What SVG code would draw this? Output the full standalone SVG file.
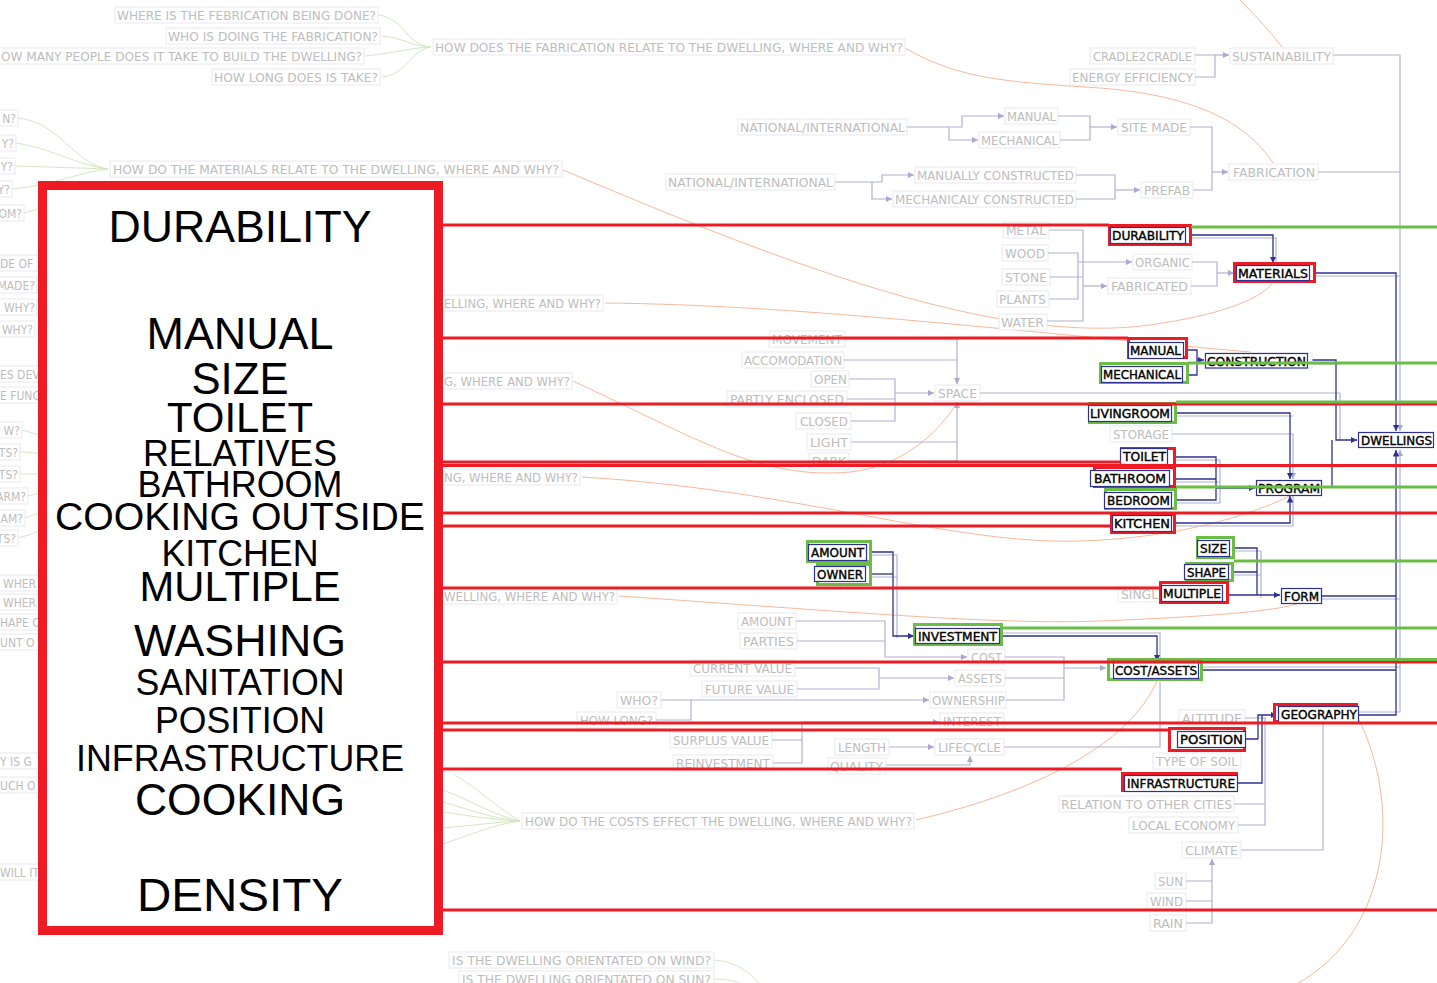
<svg xmlns="http://www.w3.org/2000/svg" width="1437" height="983" viewBox="0 0 1437 983">
<style>
.g{font-family:"DejaVu Sans Condensed","DejaVu Sans",sans-serif;font-size:12px;fill:#bdbdbd}
.ge{font-family:"DejaVu Sans Condensed","DejaVu Sans",sans-serif;font-size:12px;fill:#bdbdbd;text-anchor:end}
.gb{fill:#fff;stroke:#e9e9f0;stroke-width:1}
.k{font-family:"DejaVu Sans Condensed","DejaVu Sans",sans-serif;font-size:12px;fill:#000;stroke:#000;stroke-width:0.35}
.nb{fill:#fff;stroke:#2e3192;stroke-width:1.2}
.ro{fill:#fff;stroke:#ed1c24;stroke-width:3}
.go{fill:#fff;stroke:#6cbd45;stroke-width:3}
.lc{fill:none;stroke:#b0b0d6;stroke-width:1.2}
.dc{fill:none;stroke:#2e3192;stroke-width:1.3}
.oc{fill:none;stroke:#f8b89a;stroke-width:1}
.gc{fill:none;stroke:#d3e8c3;stroke-width:1}
.rl{stroke:#ed1c24;stroke-width:3}
.gl{stroke:#6cbd45;stroke-width:3}
.big{font-family:"Liberation Sans",Arial,sans-serif;fill:#000;text-anchor:middle}
</style>
<defs>
<marker id="al" viewBox="0 0 6 6" refX="6" refY="3" markerWidth="5" markerHeight="5" orient="auto"><path d="M0,0L6,3L0,6z" fill="#a8a8d0"/></marker>
<marker id="ad" viewBox="0 0 6 6" refX="6" refY="3" markerWidth="5" markerHeight="5" orient="auto"><path d="M0,0L6,3L0,6z" fill="#2e3192"/></marker>
</defs>
<rect width="1437" height="983" fill="#fff"/>

<g id="curves">
<path class="gc" d="M378,15 C405,18 405,45 431,47 M381,36 C405,38 410,46 431,47 M365,56 C395,53 410,48 431,47 M381,77 C408,75 410,50 431,47"/>
<path class="gc" d="M18,118 C60,122 75,165 108,169 M16,143 C50,148 80,166 108,169 M15,166 C50,167 80,168 108,169 M12,189 C50,186 80,172 108,169 M24,213 C30,211 38,210 45,205"/>
<path class="gc" d="M22,430 C30,432 36,434 42,436 M20,452 C28,452 34,453 42,454 M20,474 C28,474 34,474 42,474 M28,496 C33,495 37,494 42,492 M25,518 C31,516 36,514 42,512 M18,538 C26,536 34,533 42,530"/>
<path class="gc" d="M455,775 C480,790 500,810 520,821 M443,790 C470,800 495,816 520,821 M443,802 C470,810 495,819 520,821 M443,812 C470,816 495,820 520,821 M443,828 C470,826 495,822 520,821 M443,844 C470,835 495,824 520,821"/>
<path class="gc" d="M714,960 C740,962 752,975 766,990 M714,979 C735,979 745,985 752,990"/>
<path class="oc" d="M905,48 C960,80 1010,82 1100,88 C1190,95 1245,120 1273,163"/>
<path class="oc" d="M1240,0 Q1265,25 1282,47"/>
<path class="oc" d="M563,170 C800,270 1000,345 1150,325 C1220,315 1258,300 1272,284"/>
<path class="oc" d="M605,303 C800,305 1000,330 1250,352"/>
<path class="oc" d="M573,381 C700,440 760,480 850,472 C905,466 940,430 957,403"/>
<path class="oc" d="M582,477 C800,490 950,545 1080,541 C1180,538 1250,515 1290,496"/>
<path class="oc" d="M619,596 C850,612 1000,625 1100,621 C1200,617 1270,612 1297,604"/>
<path class="oc" d="M916,820 C980,805 1120,765 1157,681"/>
<path class="oc" d="M1358,718 C1400,800 1395,930 1295,985"/>
</g>

<g id="labels">
<g id="q1"><rect class="gb" x="115" y="7" width="263" height="16"/><text class="g" x="117" y="20" textLength="259" lengthAdjust="spacingAndGlyphs">WHERE IS THE FEBRICATION BEING DONE?</text></g>
<g id="q2"><rect class="gb" x="166" y="28" width="214" height="16"/><text class="g" x="168" y="41" textLength="210" lengthAdjust="spacingAndGlyphs">WHO IS DOING THE FABRICATION?</text></g>
<g id="q3"><rect class="gb" x="-2" y="48" width="366" height="16"/><text class="g" x="1" y="61" textLength="361" lengthAdjust="spacingAndGlyphs">OW MANY PEOPLE DOES IT TAKE TO BUILD THE DWELLING?</text></g>
<g id="q4"><rect class="gb" x="212" y="69" width="168" height="16"/><text class="g" x="214" y="82" textLength="164" lengthAdjust="spacingAndGlyphs">HOW LONG DOES IS TAKE?</text></g>
<g id="q5"><rect class="gb" x="433" y="39" width="472" height="16"/><text class="g" x="435" y="52" textLength="468" lengthAdjust="spacingAndGlyphs">HOW DOES THE FABRICATION RELATE TO THE DWELLING, WHERE AND WHY?</text></g>
<g id="m0"><rect class="gb" x="110" y="161" width="452" height="16"/><text class="g" x="113" y="174" textLength="446" lengthAdjust="spacingAndGlyphs">HOW DO THE MATERIALS RELATE TO THE DWELLING, WHERE AND WHY?</text></g>
<g id="l1"><rect class="gb" x="-2" y="110" width="20" height="16"/><text class="ge" x="16" y="123">N?</text></g>
<g id="l2"><rect class="gb" x="-2" y="135" width="18" height="16"/><text class="ge" x="14" y="148">Y?</text></g>
<g id="l3"><rect class="gb" x="-2" y="158" width="17" height="16"/><text class="ge" x="13" y="171">Y?</text></g>
<g id="l4"><rect class="gb" x="-2" y="181" width="14" height="16"/><text class="ge" x="10" y="194">Y?</text></g>
<g id="l5"><rect class="gb" x="-2" y="205" width="26" height="16"/><text class="ge" x="22" y="218">OM?</text></g>
<g id="l6"><rect class="gb" x="-2" y="255" width="45" height="16"/><text class="g" x="0" y="268">DE OF</text></g>
<g id="l7"><rect class="gb" x="-2" y="277" width="39" height="16"/><text class="ge" x="35" y="290">MADE?</text></g>
<g id="l8"><rect class="gb" x="-2" y="299" width="39" height="16"/><text class="ge" x="35" y="312">WHY?</text></g>
<g id="l9"><rect class="gb" x="-2" y="321" width="37" height="16"/><text class="ge" x="33" y="334">WHY?</text></g>
<g id="l10"><rect class="gb" x="-2" y="366" width="45" height="16"/><text class="g" x="0" y="379">ES DEV</text></g>
<g id="l11"><rect class="gb" x="-2" y="387" width="45" height="16"/><text class="g" x="0" y="400">E FUNC</text></g>
<g id="l12"><rect class="gb" x="-2" y="422" width="24" height="16"/><text class="ge" x="20" y="435">W?</text></g>
<g id="l13"><rect class="gb" x="-2" y="444" width="22" height="16"/><text class="ge" x="18" y="457">TS?</text></g>
<g id="l14"><rect class="gb" x="-2" y="466" width="22" height="16"/><text class="ge" x="18" y="479">TS?</text></g>
<g id="l15"><rect class="gb" x="-2" y="488" width="30" height="16"/><text class="ge" x="26" y="501">ARM?</text></g>
<g id="l16"><rect class="gb" x="-2" y="510" width="27" height="16"/><text class="ge" x="23" y="523">AM?</text></g>
<g id="l17"><rect class="gb" x="-2" y="530" width="20" height="16"/><text class="ge" x="16" y="543">TS?</text></g>
<g id="l18"><rect class="gb" x="-2" y="575" width="45" height="16"/><text class="g" x="3" y="588">WHER</text></g>
<g id="l19"><rect class="gb" x="-2" y="594" width="45" height="16"/><text class="g" x="3" y="607">WHER</text></g>
<g id="l20"><rect class="gb" x="-2" y="614" width="45" height="16"/><text class="g" x="0" y="627">HAPE O</text></g>
<g id="l21"><rect class="gb" x="-2" y="634" width="45" height="16"/><text class="g" x="0" y="647">UNT O</text></g>
<g id="l22"><rect class="gb" x="-2" y="753" width="45" height="16"/><text class="g" x="0" y="766">Y IS G</text></g>
<g id="l23"><rect class="gb" x="-2" y="777" width="45" height="16"/><text class="g" x="0" y="790">UCH O</text></g>
<g id="l24"><rect class="gb" x="-2" y="864" width="45" height="16"/><text class="g" x="0" y="877">WILL IT</text></g>
<g id="r1"><rect class="gb" x="440" y="295" width="163" height="16"/><text class="g" x="444" y="308" textLength="157" lengthAdjust="spacingAndGlyphs">ELLING, WHERE AND WHY?</text></g>
<g id="r2"><rect class="gb" x="440" y="373" width="132" height="16"/><text class="g" x="444" y="386" textLength="126" lengthAdjust="spacingAndGlyphs">G, WHERE AND WHY?</text></g>
<g id="r3"><rect class="gb" x="440" y="469" width="140" height="16"/><text class="g" x="444" y="482" textLength="134" lengthAdjust="spacingAndGlyphs">NG, WHERE AND WHY?</text></g>
<g id="r4"><rect class="gb" x="440" y="588" width="177" height="16"/><text class="g" x="444" y="601" textLength="171" lengthAdjust="spacingAndGlyphs">WELLING, WHERE AND WHY?</text></g>
<g id="c0"><rect class="gb" x="522" y="813" width="392" height="16"/><text class="g" x="525" y="826" textLength="387" lengthAdjust="spacingAndGlyphs">HOW DO THE COSTS EFFECT THE DWELLING, WHERE AND WHY?</text></g>
<g id="o1"><rect class="gb" x="449" y="952" width="265" height="16"/><text class="g" x="452" y="965" textLength="259" lengthAdjust="spacingAndGlyphs">IS THE DWELLING ORIENTATED ON WIND?</text></g>
<g id="o2"><rect class="gb" x="459" y="971" width="255" height="16"/><text class="g" x="462" y="984" textLength="249" lengthAdjust="spacingAndGlyphs">IS THE DWELLING ORIENTATED ON SUN?</text></g>
<g id="cradle"><rect class="gb" x="1090" y="48" width="105" height="16"/><text class="g" x="1093" y="61" textLength="99" lengthAdjust="spacingAndGlyphs">CRADLE2CRADLE</text></g>
<g id="energy"><rect class="gb" x="1070" y="69" width="125" height="16"/><text class="g" x="1072" y="82" textLength="121" lengthAdjust="spacingAndGlyphs">ENERGY EFFICIENCY</text></g>
<g id="sustain"><rect class="gb" x="1230" y="48" width="103" height="16"/><text class="g" x="1232" y="61" textLength="99" lengthAdjust="spacingAndGlyphs">SUSTAINABILITY</text></g>
<g id="nat1"><rect class="gb" x="738" y="119" width="169" height="16"/><text class="g" x="740" y="132" textLength="165" lengthAdjust="spacingAndGlyphs">NATIONAL/INTERNATIONAL</text></g>
<g id="manual-g"><rect class="gb" x="1005" y="108" width="53" height="16"/><text class="g" x="1007" y="121" textLength="49" lengthAdjust="spacingAndGlyphs">MANUAL</text></g>
<g id="mech-g"><rect class="gb" x="979" y="132" width="81" height="16"/><text class="g" x="981" y="145" textLength="77" lengthAdjust="spacingAndGlyphs">MECHANICAL</text></g>
<g id="sitemade"><rect class="gb" x="1118" y="119" width="72" height="16"/><text class="g" x="1121" y="132" textLength="66" lengthAdjust="spacingAndGlyphs">SITE MADE</text></g>
<g id="nat2"><rect class="gb" x="666" y="174" width="169" height="16"/><text class="g" x="668" y="187" textLength="165" lengthAdjust="spacingAndGlyphs">NATIONAL/INTERNATIONAL</text></g>
<g id="manc"><rect class="gb" x="915" y="167" width="161" height="16"/><text class="g" x="917" y="180" textLength="157" lengthAdjust="spacingAndGlyphs">MANUALLY CONSTRUCTED</text></g>
<g id="mechc"><rect class="gb" x="893" y="191" width="183" height="16"/><text class="g" x="895" y="204" textLength="179" lengthAdjust="spacingAndGlyphs">MECHANICALY CONSTRUCTED</text></g>
<g id="prefab"><rect class="gb" x="1141" y="182" width="52" height="16"/><text class="g" x="1144" y="195" textLength="46" lengthAdjust="spacingAndGlyphs">PREFAB</text></g>
<g id="fabrication"><rect class="gb" x="1229" y="164" width="89" height="16"/><text class="g" x="1233" y="177" textLength="82" lengthAdjust="spacingAndGlyphs">FABRICATION</text></g>
<g id="metal"><rect class="gb" x="1003" y="222" width="46" height="16"/><text class="g" x="1006" y="235" textLength="40" lengthAdjust="spacingAndGlyphs">METAL</text></g>
<g id="wood"><rect class="gb" x="1002" y="245" width="46" height="16"/><text class="g" x="1005" y="258" textLength="40" lengthAdjust="spacingAndGlyphs">WOOD</text></g>
<g id="stone"><rect class="gb" x="1002" y="269" width="48" height="16"/><text class="g" x="1005" y="282" textLength="42" lengthAdjust="spacingAndGlyphs">STONE</text></g>
<g id="plants"><rect class="gb" x="997" y="291" width="52" height="16"/><text class="g" x="999" y="304" textLength="47" lengthAdjust="spacingAndGlyphs">PLANTS</text></g>
<g id="water"><rect class="gb" x="999" y="314" width="48" height="16"/><text class="g" x="1001" y="327" textLength="43" lengthAdjust="spacingAndGlyphs">WATER</text></g>
<g id="organic"><rect class="gb" x="1133" y="254" width="59" height="16"/><text class="g" x="1135" y="267" textLength="55" lengthAdjust="spacingAndGlyphs">ORGANIC</text></g>
<g id="fabricated"><rect class="gb" x="1108" y="278" width="83" height="16"/><text class="g" x="1111" y="291" textLength="77" lengthAdjust="spacingAndGlyphs">FABRICATED</text></g>
<g id="movement"><rect class="gb" x="769" y="331" width="76" height="16"/><text class="g" x="772" y="344" textLength="70" lengthAdjust="spacingAndGlyphs">MOVEMENT</text></g>
<g id="accom"><rect class="gb" x="742" y="352" width="102" height="16"/><text class="g" x="744" y="365" textLength="98" lengthAdjust="spacingAndGlyphs">ACCOMODATION</text></g>
<g id="open"><rect class="gb" x="811" y="371" width="38" height="16"/><text class="g" x="814" y="384" textLength="33" lengthAdjust="spacingAndGlyphs">OPEN</text></g>
<g id="partly"><rect class="gb" x="727" y="391" width="120" height="16"/><text class="g" x="730" y="404" textLength="114" lengthAdjust="spacingAndGlyphs">PARTLY ENCLOSED</text></g>
<g id="closed"><rect class="gb" x="796" y="413" width="55" height="16"/><text class="g" x="800" y="426" textLength="48" lengthAdjust="spacingAndGlyphs">CLOSED</text></g>
<g id="light"><rect class="gb" x="807" y="434" width="44" height="16"/><text class="g" x="810" y="447" textLength="38" lengthAdjust="spacingAndGlyphs">LIGHT</text></g>
<g id="dark"><rect class="gb" x="809" y="453" width="40" height="16"/><text class="g" x="812" y="466" textLength="34" lengthAdjust="spacingAndGlyphs">DARK</text></g>
<g id="space"><rect class="gb" x="935" y="385" width="45" height="16"/><text class="g" x="938" y="398" textLength="39" lengthAdjust="spacingAndGlyphs">SPACE</text></g>
<g id="storage"><rect class="gb" x="1110" y="426" width="62" height="16"/><text class="g" x="1113" y="439" textLength="56" lengthAdjust="spacingAndGlyphs">STORAGE</text></g>
<g id="singlemult"><rect class="gb" x="1118" y="586" width="110" height="16"/><text class="g" x="1121" y="599" textLength="37" lengthAdjust="spacingAndGlyphs">SINGL</text></g>
<g id="amount-g"><rect class="gb" x="738" y="613" width="58" height="16"/><text class="g" x="741" y="626" textLength="52" lengthAdjust="spacingAndGlyphs">AMOUNT</text></g>
<g id="parties"><rect class="gb" x="740" y="633" width="57" height="16"/><text class="g" x="743" y="646" textLength="51" lengthAdjust="spacingAndGlyphs">PARTIES</text></g>
<g id="cost"><rect class="gb" x="968" y="649" width="37" height="16"/><text class="g" x="971" y="662" textLength="31" lengthAdjust="spacingAndGlyphs">COST</text></g>
<g id="current"><rect class="gb" x="690" y="660" width="105" height="16"/><text class="g" x="693" y="673" textLength="99" lengthAdjust="spacingAndGlyphs">CURRENT VALUE</text></g>
<g id="future"><rect class="gb" x="702" y="681" width="95" height="16"/><text class="g" x="705" y="694" textLength="89" lengthAdjust="spacingAndGlyphs">FUTURE VALUE</text></g>
<g id="assets"><rect class="gb" x="955" y="670" width="50" height="16"/><text class="g" x="958" y="683" textLength="44" lengthAdjust="spacingAndGlyphs">ASSETS</text></g>
<g id="who"><rect class="gb" x="617" y="692" width="44" height="16"/><text class="g" x="620" y="705" textLength="38" lengthAdjust="spacingAndGlyphs">WHO?</text></g>
<g id="howlong"><rect class="gb" x="577" y="712" width="79" height="16"/><text class="g" x="580" y="725" textLength="73" lengthAdjust="spacingAndGlyphs">HOW LONG?</text></g>
<g id="ownership"><rect class="gb" x="930" y="692" width="76" height="16"/><text class="g" x="932" y="705" textLength="73" lengthAdjust="spacingAndGlyphs">OWNERSHIP</text></g>
<g id="interest"><rect class="gb" x="940" y="713" width="64" height="16"/><text class="g" x="943" y="726" textLength="58" lengthAdjust="spacingAndGlyphs">INTEREST</text></g>
<g id="surplus"><rect class="gb" x="670" y="732" width="102" height="16"/><text class="g" x="673" y="745" textLength="96" lengthAdjust="spacingAndGlyphs">SURPLUS VALUE</text></g>
<g id="reinvest"><rect class="gb" x="673" y="755" width="100" height="16"/><text class="g" x="676" y="768" textLength="94" lengthAdjust="spacingAndGlyphs">REINVESTMENT</text></g>
<g id="length"><rect class="gb" x="835" y="739" width="54" height="16"/><text class="g" x="838" y="752" textLength="48" lengthAdjust="spacingAndGlyphs">LENGTH</text></g>
<g id="quality"><rect class="gb" x="828" y="758" width="58" height="16"/><text class="g" x="830" y="771" textLength="53" lengthAdjust="spacingAndGlyphs">QUALITY</text></g>
<g id="lifecycle"><rect class="gb" x="935" y="739" width="69" height="16"/><text class="g" x="938" y="752" textLength="63" lengthAdjust="spacingAndGlyphs">LIFECYCLE</text></g>
<g id="altitude"><rect class="gb" x="1179" y="710" width="66" height="16"/><text class="g" x="1182" y="723" textLength="60" lengthAdjust="spacingAndGlyphs">ALTITUDE</text></g>
<g id="soil"><rect class="gb" x="1153" y="753" width="88" height="16"/><text class="g" x="1156" y="766" textLength="82" lengthAdjust="spacingAndGlyphs">TYPE OF SOIL</text></g>
<g id="relation"><rect class="gb" x="1059" y="796" width="175" height="16"/><text class="g" x="1061" y="809" textLength="171" lengthAdjust="spacingAndGlyphs">RELATION TO OTHER CITIES</text></g>
<g id="localeco"><rect class="gb" x="1129" y="817" width="109" height="16"/><text class="g" x="1132" y="830" textLength="103" lengthAdjust="spacingAndGlyphs">LOCAL ECONOMY</text></g>
<g id="climate"><rect class="gb" x="1182" y="842" width="59" height="16"/><text class="g" x="1185" y="855" textLength="53" lengthAdjust="spacingAndGlyphs">CLIMATE</text></g>
<g id="sun"><rect class="gb" x="1155" y="873" width="31" height="16"/><text class="g" x="1158" y="886" textLength="25" lengthAdjust="spacingAndGlyphs">SUN</text></g>
<g id="wind"><rect class="gb" x="1147" y="893" width="39" height="16"/><text class="g" x="1150" y="906" textLength="33" lengthAdjust="spacingAndGlyphs">WIND</text></g>
<g id="rain"><rect class="gb" x="1150" y="915" width="36" height="16"/><text class="g" x="1153" y="928" textLength="30" lengthAdjust="spacingAndGlyphs">RAIN</text></g>
</g>

<g id="connectors">
<path class="lc" d="M1195,77 H1215 V55 M1195,55 H1215"/>
<path class="lc" d="M1215,55 H1229" marker-end="url(#al)"/>
<path class="lc" d="M1333,55 H1400 V431" marker-end="url(#al)"/>
<path class="lc" d="M1318,172 H1400"/>
<path class="lc" d="M907,127 H962 V116 H1004" marker-end="url(#al)"/>
<path class="lc" d="M949,127 V140 H978" marker-end="url(#al)"/>
<path class="lc" d="M1058,116 H1090 V140 H1060"/>
<path class="lc" d="M1090,127 H1117" marker-end="url(#al)"/>
<path class="lc" d="M1190,127 H1212 V190 H1193"/>
<path class="lc" d="M1212,172 H1228" marker-end="url(#al)"/>
<path class="lc" d="M835,182 H882 V175 H914" marker-end="url(#al)"/>
<path class="lc" d="M872,182 V199 H892" marker-end="url(#al)"/>
<path class="lc" d="M1076,175 H1115 V199 H1076"/>
<path class="lc" d="M1115,190 H1140" marker-end="url(#al)"/>
<path class="lc" d="M1048,253 H1078 V299 H1049 M1049,230 H1083 V321 H1047 M1050,277 H1083"/>
<path class="lc" d="M1078,262 H1132" marker-end="url(#al)"/>
<path class="lc" d="M1083,286 H1107" marker-end="url(#al)"/>
<path class="lc" d="M1192,262 H1217 V286 H1191 M1186,238 H1276 V263"/>
<path class="lc" d="M1217,273 H1234" marker-end="url(#al)"/>
<path class="lc" d="M845,339 H957 V384" marker-end="url(#al)"/>
<path class="lc" d="M844,360 H957 M849,379 H895 V421 H851 M847,399 H895"/>
<path class="lc" d="M895,393 H934" marker-end="url(#al)"/>
<path class="lc" d="M851,442 H957 M849,461 H957 V402" marker-end="url(#al)"/>
<path class="lc" d="M980,393 H1340 V440"/>
<path class="lc" d="M1308,364 H1340 M1310,276 H1400"/>
<path class="lc" d="M1172,434 H1293 V479" marker-end="url(#al)"/>
<path class="lc" d="M1172,416 H1293 M1172,460 H1220 V503 H1176 M1172,482 H1220 M1176,526 H1293 V496"/>
<path class="lc" d="M1230,551 H1261 V598 M1229,575 H1261 M1322,599 H1400"/>
<path class="lc" d="M869,555 H897 V638 M869,577 H897"/>
<path class="lc" d="M796,621 H885 V657 H967" marker-end="url(#al)"/>
<path class="lc" d="M797,641 H885"/>
<path class="lc" d="M795,668 H879 V689 H797"/>
<path class="lc" d="M879,678 H954" marker-end="url(#al)"/>
<path class="lc" d="M661,700 H691 V720 H656"/>
<path class="lc" d="M691,700 H929" marker-end="url(#al)"/>
<path class="lc" d="M1005,657 H1064 V700 H1006 M1005,678 H1064"/>
<path class="lc" d="M1064,668 H1106" marker-end="url(#al)"/>
<path class="lc" d="M772,740 H802 V763 H773"/>
<path class="lc" d="M802,740 V722 H939" marker-end="url(#al)"/>
<path class="lc" d="M889,747 H934" marker-end="url(#al)"/>
<path class="lc" d="M886,765 H970 V756" marker-end="url(#al)"/>
<path class="lc" d="M1004,747 H1160 V682 M1003,633 H1160 V660 M1203,667 H1400"/>
<path class="lc" d="M1245,718 H1265 V825 H1238 M1234,804 H1265"/>
<path class="lc" d="M1241,850 H1323 V724"/>
<path class="lc" d="M1186,881 H1212 M1186,901 H1212 M1186,923 H1212 V859" marker-end="url(#al)"/>
<path class="lc" d="M1359,712 H1400 V450" marker-end="url(#al)"/>
<path class="dc" d="M1186,235 H1273 V263" marker-end="url(#ad)"/>
<path class="dc" d="M1310,273 H1396 V431" marker-end="url(#ad)"/>
<path class="dc" d="M1184,350 H1197 V375 H1183"/>
<path class="dc" d="M1197,360 H1204" marker-end="url(#ad)"/>
<path class="dc" d="M1308,360 H1336 V440 H1357" marker-end="url(#ad)"/>
<path class="dc" d="M1322,487 H1332 V440"/>
<path class="dc" d="M1172,413 H1290 V479" marker-end="url(#ad)"/>
<path class="dc" d="M1168,457 H1216 V500 H1172 M1170,479 H1216"/>
<path class="dc" d="M1216,488 H1255" marker-end="url(#ad)"/>
<path class="dc" d="M1172,523 H1290 V496" marker-end="url(#ad)"/>
<path class="dc" d="M1230,548 H1257 V595 M1229,572 H1257"/>
<path class="dc" d="M1223,595 H1280" marker-end="url(#ad)"/>
<path class="dc" d="M1322,596 H1396"/>
<path class="dc" d="M867,552 H893 V636 H914" marker-end="url(#ad)"/>
<path class="dc" d="M866,574 H893"/>
<path class="dc" d="M1000,636 H1157 V661" marker-end="url(#ad)"/>
<path class="dc" d="M1199,670 H1396"/>
<path class="dc" d="M1246,739 H1258 M1238,783 H1262 V715"/>
<path class="dc" d="M1258,739 V715 H1277" marker-end="url(#ad)"/>
<path class="dc" d="M1359,715 H1396 V450" marker-end="url(#ad)"/>
</g>

<g id="bigbox">
<rect x="42.5" y="185.5" width="396" height="745" fill="#fff" stroke="#ed1c24" stroke-width="9"/>
<text class="big" x="240" y="242" font-size="45" textLength="263" lengthAdjust="spacingAndGlyphs">DURABILITY</text>
<text class="big" x="240" y="349" font-size="45" textLength="187" lengthAdjust="spacingAndGlyphs">MANUAL</text>
<text class="big" x="240" y="394" font-size="44" textLength="97" lengthAdjust="spacingAndGlyphs">SIZE</text>
<text class="big" x="240" y="432" font-size="42" textLength="146" lengthAdjust="spacingAndGlyphs">TOILET</text>
<text class="big" x="240" y="466" font-size="36" textLength="194" lengthAdjust="spacingAndGlyphs">RELATIVES</text>
<text class="big" x="240" y="497" font-size="36" textLength="205" lengthAdjust="spacingAndGlyphs">BATHROOM</text>
<text class="big" x="240" y="530" font-size="39" textLength="370" lengthAdjust="spacingAndGlyphs">COOKING OUTSIDE</text>
<text class="big" x="240" y="566" font-size="37" textLength="157" lengthAdjust="spacingAndGlyphs">KITCHEN</text>
<text class="big" x="240" y="601" font-size="42" textLength="201" lengthAdjust="spacingAndGlyphs">MULTIPLE</text>
<text class="big" x="240" y="656" font-size="45" textLength="212" lengthAdjust="spacingAndGlyphs">WASHING</text>
<text class="big" x="240" y="695" font-size="36" textLength="209" lengthAdjust="spacingAndGlyphs">SANITATION</text>
<text class="big" x="240" y="733" font-size="36" textLength="170" lengthAdjust="spacingAndGlyphs">POSITION</text>
<text class="big" x="240" y="771" font-size="36" textLength="328" lengthAdjust="spacingAndGlyphs">INFRASTRUCTURE</text>
<text class="big" x="240" y="815" font-size="45" textLength="210" lengthAdjust="spacingAndGlyphs">COOKING</text>
<text class="big" x="240" y="911" font-size="47" textLength="206" lengthAdjust="spacingAndGlyphs">DENSITY</text>
</g>

<g id="n-durability"><rect class="ro" x="1109.5" y="225.5" width="81" height="19"/><rect class="nb" x="1110.5" y="227.5" width="75" height="16"/><text class="k" x="1112" y="240" textLength="72" lengthAdjust="spacingAndGlyphs">DURABILITY</text></g>
<g id="n-materials"><rect class="ro" x="1234.5" y="263.5" width="80" height="18"/><rect class="nb" x="1236.5" y="265.5" width="73" height="15"/><text class="k" x="1238" y="278" textLength="70" lengthAdjust="spacingAndGlyphs">MATERIALS</text></g>
<g id="n-manual"><rect class="ro" x="1128.5" y="338.5" width="58" height="19"/><rect class="nb" x="1128.5" y="342.5" width="55" height="16"/><text class="k" x="1130" y="355" textLength="51" lengthAdjust="spacingAndGlyphs">MANUAL</text></g>
<g id="n-mechanical"><rect class="go" x="1100.5" y="363.5" width="87" height="19"/><rect class="nb" x="1101.5" y="366.5" width="81" height="16"/><text class="k" x="1103" y="379" textLength="78" lengthAdjust="spacingAndGlyphs">MECHANICAL</text></g>
<g id="n-construction"><rect class="gb" x="1205" y="353" width="107" height="16"/><rect class="nb" x="1205.5" y="353.5" width="102" height="14.5"/><text class="k" x="1207" y="366" textLength="99" lengthAdjust="spacingAndGlyphs">CONSTRUCTION</text></g>
<g id="n-livingroom"><rect class="go" x="1089.5" y="403.5" width="86" height="19"/><rect class="nb" x="1088.5" y="405.5" width="83" height="16"/><text class="k" x="1090" y="418" textLength="80" lengthAdjust="spacingAndGlyphs">LIVINGROOM</text></g>
<g id="n-toilet"><rect class="ro" x="1121.5" y="448.5" width="53" height="17"/><rect class="nb" x="1120.5" y="448.5" width="47" height="16"/><text class="k" x="1123" y="461" textLength="43" lengthAdjust="spacingAndGlyphs">TOILET</text></g>
<g id="n-bathroom"><rect class="ro" x="1094.5" y="467.5" width="80" height="19"/><rect class="nb" x="1090.5" y="470.5" width="79" height="16"/><text class="k" x="1094" y="483" textLength="72" lengthAdjust="spacingAndGlyphs">BATHROOM</text></g>
<g id="n-bedroom"><rect class="go" x="1105.5" y="489.5" width="70" height="19"/><rect class="nb" x="1104.5" y="492.5" width="67" height="16"/><text class="k" x="1107" y="505" textLength="63" lengthAdjust="spacingAndGlyphs">BEDROOM</text></g>
<g id="n-kitchen"><rect class="ro" x="1111.5" y="514.5" width="63" height="18"/><rect class="nb" x="1112.5" y="515.5" width="59" height="16"/><text class="k" x="1114" y="528" textLength="56" lengthAdjust="spacingAndGlyphs">KITCHEN</text></g>
<g id="n-program"><rect class="nb" x="1256.5" y="480.5" width="65" height="15"/><text class="k" x="1258" y="493" textLength="62" lengthAdjust="spacingAndGlyphs">PROGRAM</text></g>
<g id="n-dwellings"><rect class="nb" x="1358.5" y="432.5" width="75" height="15"/><text class="k" x="1361" y="445" textLength="71" lengthAdjust="spacingAndGlyphs">DWELLINGS</text></g>
<g id="n-size"><rect class="go" x="1197.5" y="537.5" width="36" height="20"/><rect class="nb" x="1197.5" y="540.5" width="32" height="16"/><text class="k" x="1200" y="553" textLength="27" lengthAdjust="spacingAndGlyphs">SIZE</text></g>
<g id="n-shape"><rect class="go" x="1186.5" y="563.5" width="46" height="17"/><rect class="nb" x="1184.5" y="564.5" width="44" height="15"/><text class="k" x="1187" y="577" textLength="39" lengthAdjust="spacingAndGlyphs">SHAPE</text></g>
<g id="n-multiple"><rect class="ro" x="1160.5" y="582.5" width="67" height="20"/><rect class="nb" x="1161.5" y="585.5" width="61" height="16"/><text class="k" x="1163" y="598" textLength="58" lengthAdjust="spacingAndGlyphs">MULTIPLE</text></g>
<g id="n-form"><rect class="nb" x="1281.5" y="588.5" width="40" height="15"/><text class="k" x="1284" y="601" textLength="35" lengthAdjust="spacingAndGlyphs">FORM</text></g>
<g id="n-amount"><rect class="go" x="807.5" y="541.5" width="63" height="20"/><rect class="nb" x="808.5" y="544.5" width="58" height="16"/><text class="k" x="811" y="557" textLength="53" lengthAdjust="spacingAndGlyphs">AMOUNT</text></g>
<g id="n-owner"><rect class="go" x="817.5" y="564.5" width="53" height="20"/><rect class="nb" x="814.5" y="566.5" width="51" height="15"/><text class="k" x="817" y="579" textLength="46" lengthAdjust="spacingAndGlyphs">OWNER</text></g>
<g id="n-investment"><rect class="go" x="914.5" y="624.5" width="87" height="20"/><rect class="nb" x="915.5" y="628.5" width="84" height="15"/><text class="k" x="918" y="641" textLength="79" lengthAdjust="spacingAndGlyphs">INVESTMENT</text></g>
<g id="n-costassets"><rect class="go" x="1108.5" y="659.5" width="93" height="20"/><rect class="nb" x="1113.5" y="662.5" width="85" height="16"/><text class="k" x="1115" y="675" textLength="82" lengthAdjust="spacingAndGlyphs">COST/ASSETS</text></g>
<g id="n-geography"><rect class="ro" x="1274.5" y="704.5" width="82" height="17"/><rect class="nb" x="1278.5" y="706.5" width="80" height="16"/><text class="k" x="1281" y="719" textLength="76" lengthAdjust="spacingAndGlyphs">GEOGRAPHY</text></g>
<g id="n-position"><rect class="ro" x="1169.5" y="728.5" width="75" height="22"/><rect class="nb" x="1177.5" y="731.5" width="68" height="16"/><text class="k" x="1180" y="744" textLength="63" lengthAdjust="spacingAndGlyphs">POSITION</text></g>
<g id="n-infrastructure"><rect class="ro" x="1122.5" y="773.5" width="114" height="17"/><rect class="nb" x="1124.5" y="775.5" width="113" height="16"/><text class="k" x="1127" y="788" textLength="108" lengthAdjust="spacingAndGlyphs">INFRASTRUCTURE</text></g>

<g id="highlight-lines">
<path class="rl" d="M443,225 H1109 M443,338 H1128 M443,404 H1437 M443,462 H1121 M443,465.5 H1437 M443,513 H1437 M443,526 H1111 M443,588 H1160 M443,662 H1437 M443,723 H1437 M443,730 H1169 M443,769 H1122 M443,910 H1437"/>
<path class="gl" d="M1191,227 H1437 M1188,363 H1437 M1176,402 H1437 M1176,487 H1437 M1234,561 H1437 M1002,628 H1437 M1202,659.5 H1437"/>
</g>
</svg>
